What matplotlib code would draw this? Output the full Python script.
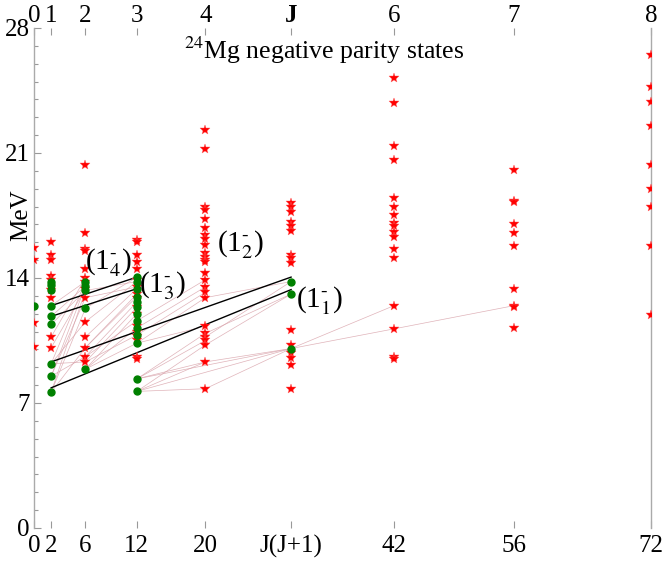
#!/usr/bin/env python3
"""
24Mg negative parity states: energies against J(J+1)
"""
import matplotlib
matplotlib.use('Agg')
import matplotlib.pyplot as plt

plt.rcParams['font.family'] = ['Liberation Serif', 'DejaVu Serif']
plt.rcParams['mathtext.fontset'] = 'stix'

jj = [0, 2, 6, 12, 20, 30, 42, 56, 72]
bottom_labels = ['0', '2', '6', '12', '20', 'J(J+1)', '42', '56', '72']
top_labels = ['0', '1', '2', '3', '4', 'J', '6', '7', '8']

# computed levels (red stars), MeV, one list per J(J+1)
stars = {
    0: [15.7, 15.0, 11.5, 10.15],
    2: [16.0, 15.3, 15.0, 14.1, 13.9, 13.3, 12.9, 10.7, 10.1],
    6: [20.3, 16.5, 15.6, 15.5, 14.5, 14.0, 13.8, 13.4, 12.9, 11.55,
        10.7, 10.1, 9.6, 9.3],
    12: [16.1, 16.0, 15.3, 14.9, 14.5, 13.9, 13.5, 13.1, 12.9, 12.4, 12.0,
         11.3, 11.0, 10.75, 10.5, 9.6, 9.45],
    20: [22.3, 21.2, 18.0, 17.8, 17.3, 16.8, 16.4, 16.2, 15.85, 15.4, 15.2,
         15.0, 14.9, 14.3, 13.9, 13.5, 13.2, 12.9, 11.3, 10.9, 10.7, 10.5,
         10.25, 9.3, 7.8],
    30: [18.2, 18.0, 17.7, 17.15, 16.9, 16.65, 15.3, 15.1, 14.85, 11.1,
         10.25, 9.8, 9.5, 9.1, 7.8],
    42: [25.2, 23.8, 21.4, 20.6, 18.5, 18.0, 17.5, 17.1, 16.9, 16.6, 16.3,
         15.6, 15.1, 12.45, 11.15, 9.55, 9.45],
    56: [20.05, 18.3, 18.25, 17.05, 16.5, 15.8, 13.4, 12.45, 12.4, 11.2],
    72: [26.5, 24.7, 23.85, 22.5, 20.3, 19.0, 18.0, 15.8, 11.9],
}

# experimental levels (green dots)
dots = {
    0: [12.45],
    2: [13.8, 13.6, 13.35, 12.45, 11.85, 11.4, 9.2, 8.5, 7.6],
    6: [13.8, 13.55, 13.3, 12.3, 8.9],
    12: [14.05, 13.8, 13.4, 12.95, 12.65, 12.35, 12.0, 11.6, 11.2, 10.8,
         10.35, 8.35, 7.65],
    30: [13.8, 13.1, 10.05],
}

# bands (black lines): (label, J(J+1) ends, E ends)
bands = [
    ('4', [2, 12], [12.45, 14.05]),
    ('3', [2, 12], [11.85, 13.4]),
    ('2', [2, 30], [9.3, 14.05]),
    ('1', [2, 30], [7.85, 13.35]),
]
band_label_pos = {'4': (5.9, 14.85), '3': (12.3, 13.6),
                  '2': (21.4, 15.85), '1': (30.6, 12.75)}

# transition links (thin pink lines): J1, E1, J2, E2
links = [
    (2, 7.6, 6, 13.3), (2, 7.6, 6, 12.3), (2, 7.6, 6, 10.1),
    (2, 8.5, 6, 13.55), (2, 8.5, 6, 12.9), (2, 8.5, 6, 9.6),
    (2, 9.2, 6, 13.8), (2, 9.2, 6, 11.55), (2, 9.2, 6, 9.3),
    (2, 10.1, 6, 13.4), (2, 10.7, 6, 14.0), (2, 11.4, 6, 13.3),
    (2, 11.85, 6, 13.55), (2, 12.45, 6, 13.8),
    (6, 8.9, 12, 12.0), (6, 8.9, 12, 11.2), (6, 8.9, 12, 10.35),
    (6, 9.3, 12, 12.35), (6, 9.3, 12, 10.8),
    (6, 9.6, 12, 12.65), (6, 9.6, 12, 11.6),
    (6, 10.1, 12, 12.95), (6, 10.1, 12, 13.1),
    (6, 10.7, 12, 13.4), (6, 11.55, 12, 13.8), (6, 12.3, 12, 14.05),
    (6, 12.9, 12, 13.5), (6, 13.3, 12, 13.8),
    (12, 7.65, 20, 7.8), (12, 7.65, 20, 9.3), (12, 7.65, 20, 10.25),
    (12, 8.35, 20, 9.3), (12, 8.35, 20, 10.5), (12, 8.35, 20, 10.9),
    (12, 10.35, 20, 12.9), (12, 10.35, 20, 11.3), (12, 10.8, 20, 13.2),
    (12, 11.2, 20, 13.5), (12, 11.6, 20, 13.9),
    (12, 7.65, 30, 10.05), (12, 8.35, 30, 10.05),
    (20, 7.8, 30, 10.05), (20, 9.3, 30, 10.05), (20, 10.25, 30, 13.1),
    (20, 10.7, 30, 13.8), (20, 10.9, 30, 13.1), (20, 12.9, 30, 13.8),
    (30, 10.05, 42, 12.45), (30, 10.05, 42, 11.15),
    (42, 11.15, 56, 12.45),
]

fig = plt.figure(figsize=(6.63, 5.62), dpi=100)
ax = fig.add_axes([0.0513, 0.0605, 0.9306, 0.8897])

for j1, e1, j2, e2 in links:
    ax.plot([j1, j2], [e1, e2], color='#d8a0a8', lw=0.5, alpha=0.8, zorder=1)

for name, xs, ys in bands:
    ax.plot(xs, ys, color='black', lw=1.0, zorder=2)
    lx, ly = band_label_pos[name]
    ax.text(lx, ly, r'(1$^{\text{-}}_{' + name + '}$)', fontsize=21,
            ha='left', va='center', zorder=5)

for j, es in stars.items():
    ax.plot([j] * len(es), es, ls='none', marker='*', ms=7, mew=0.3,
            color='red', mec='#ff6060', zorder=3)

for j, es in dots.items():
    ax.plot([j] * len(es), es, ls='none', marker='o', ms=5,
            color='green', zorder=4)

ax.text(33.8, 26.75, r'$^{24}$Mg negative parity states', fontsize=18.5,
        ha='center', va='center')

ax.set_xlim(0, 72)
ax.set_ylim(0, 28)
ax.set_xticks(jj)
ax.set_xticklabels(bottom_labels)
ax.set_yticks([0, 7, 14, 21, 28])
ax.set_yticks(range(0, 29), minor=True)
ax.set_ylabel('MeV', fontsize=18)
ax.yaxis.set_label_coords(-0.003, 0.626)

ax.tick_params(axis='both', labelsize=18, direction='in', color='#999999',
               length=5, width=0.8)
ax.tick_params(axis='y', which='minor', direction='in', color='#999999',
               length=3, width=0.8)
ax.tick_params(axis='x', pad=5)
ax.tick_params(axis='y', pad=3)

top = ax.secondary_xaxis('top')
top.set_xticks(jj)
top.set_xticklabels(top_labels)
top.tick_params(labelsize=18, direction='in', color='#999999', length=5,
                width=0.8, pad=1)
top.spines['top'].set_visible(False)
for lbl in top.get_xticklabels():
    if lbl.get_text() == 'J':
        lbl.set_fontweight('bold')

for side in ['top', 'bottom']:
    ax.spines[side].set_visible(False)
for side in ['left', 'right']:
    ax.spines[side].set_color('#aaaaaa')
    ax.spines[side].set_linewidth(1.0)

fig.savefig('out.png', dpi=100)
